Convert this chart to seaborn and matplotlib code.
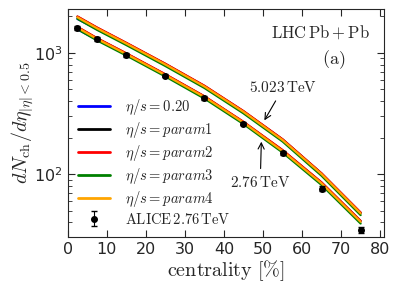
import numpy as np
import pandas as pd
import matplotlib
matplotlib.use('Agg')
import matplotlib.pyplot as plt
import seaborn as sns

centrality = [2.5, 7.5, 15, 25, 35, 45, 55, 65, 75]

# ALICE 2.76 TeV data
alice_vals = [1601, 1294, 966, 649, 426, 261, 149, 76, 35]
alice_err = [60, 49, 37, 23, 15, 9, 6, 4, 2]

# model curves, 2.76 TeV
low_blue = [1560, 1280, 970, 655, 432, 266, 156, 84.5, 40.8]
low_black = [1625, 1312, 985, 661, 436, 268, 157, 85, 41]
low_red = [1635, 1320, 990, 665, 438, 270, 158, 85.5, 41.2]
low_green = [1565, 1265, 950, 638, 420, 259, 151, 81.5, 39.2]
low_orange = [1610, 1300, 975, 655, 432, 266, 155, 84, 40.5]

# model curves, 5.023 TeV
up_blue = [1900, 1565, 1180, 798, 527, 326, 192, 100.5, 47.8]
up_black = [1980, 1605, 1200, 808, 532, 329, 193, 101, 48]
up_red = [1990, 1615, 1208, 812, 535, 331, 194, 101.5, 48.3]
up_green = [1905, 1545, 1158, 778, 513, 317, 186, 97, 46]
up_orange = [1960, 1590, 1190, 800, 527, 326, 191, 100, 47.5]

labels = [r'$\eta/s=0.20$', r'$\eta/s=param1$', r'$\eta/s=param2$',
          r'$\eta/s=param3$', r'$\eta/s=param4$']
colors = ['blue', 'black', 'red', 'green', 'orange']
low_curves = [low_blue, low_black, low_red, low_green, low_orange]
up_curves = [up_blue, up_black, up_red, up_green, up_orange]

sns.set_style('ticks')
plt.rcParams['mathtext.fontset'] = 'cm'
plt.rcParams['font.family'] = ['DejaVu Sans']

fig = plt.figure(figsize=(3.98, 2.92), dpi=100)
ax = fig.add_axes([0.170, 0.188, 0.795, 0.781])

for lab, col, lo, up in zip(labels, colors, low_curves, up_curves):
    df = pd.DataFrame({'c': centrality + centrality,
                       'v': lo + up,
                       'e': ['2.76'] * len(lo) + ['5.023'] * len(up)})
    sns.lineplot(data=df, x='c', y='v', units='e', estimator=None,
                 color=col, lw=1.6, ax=ax, legend=False)
    ax.plot([], [], color=col, lw=2, label=lab)

ax.errorbar(centrality, alice_vals, yerr=alice_err, fmt='o', color='black',
            ms=4, capsize=2, elinewidth=0.8, zorder=5,
            label=r'$\mathrm{ALICE\,2.76\,TeV}$')

ax.set_yscale('log')
ax.set_xlim(0, 81)
ax.set_ylim(30.3, 2290)
ax.set_xticks(range(0, 81, 10))
ax.tick_params(which='both', direction='in', top=True, right=True, labelsize=11.5)
ax.tick_params(which='major', length=5)
ax.tick_params(which='minor', length=3)
ax.tick_params(axis='x', which='minor', top=False, bottom=False)

ax.set_xlabel(r'$\mathrm{centrality}\ [\%]$', fontsize=14.5, labelpad=1)
ax.set_ylabel(r'$dN_{\rm ch}/d\eta_{|\eta|<0.5}$', fontsize=14.5)
ax.yaxis.set_label_coords(-0.10, 0.50)

ax.text(0.80, 0.895, r'$\mathrm{LHC\,Pb+Pb}$', transform=ax.transAxes,
        ha='center', va='center', fontsize=12)
ax.text(0.84, 0.776, r'$\mathrm{(a)}$', transform=ax.transAxes,
        ha='center', va='center', fontsize=13)

ax.annotate(r'$5.023\,\mathrm{TeV}$', xy=(50.0, 265), xytext=(55.2, 515),
            ha='center', va='center', fontsize=11,
            arrowprops=dict(arrowstyle='->', color='black', lw=0.8))
ax.annotate(r'$2.76\,\mathrm{TeV}$', xy=(49.6, 195), xytext=(49.3, 86),
            ha='center', va='center', fontsize=11,
            arrowprops=dict(arrowstyle='->', color='black', lw=0.8))

ax.legend(loc='lower left', frameon=False, fontsize=10.5, handlelength=2.2,
          handletextpad=1.0, labelspacing=0.2, borderaxespad=0.3,
          bbox_to_anchor=(0.0, 0.0))

fig.savefig('out.png', dpi=100)
